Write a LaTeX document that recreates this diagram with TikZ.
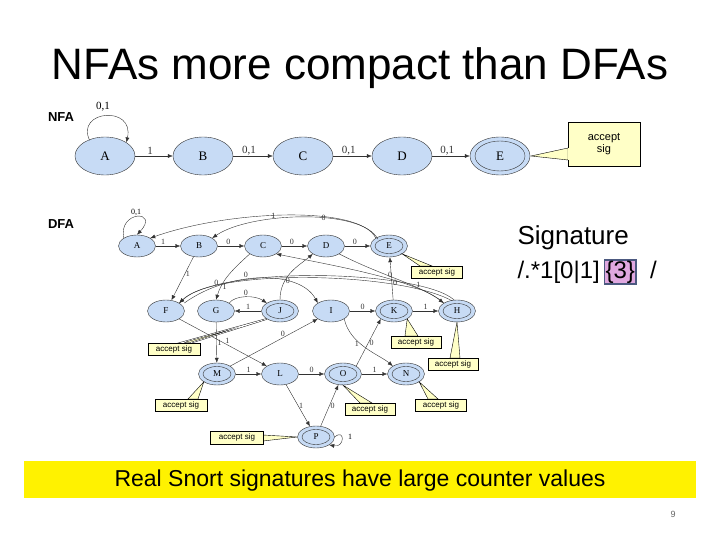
\documentclass[tikz,border=0pt]{standalone}
\usepackage{fontspec}
\setmainfont{Liberation Sans}
\newfontfamily\serif{Liberation Serif}
\usetikzlibrary{arrows.meta,shapes.geometric}
\definecolor{nodefill}{rgb}{0.78,0.86,0.96}
\definecolor{callfill}{rgb}{1,1,0.78}
\definecolor{pinkbox}{rgb}{0.88,0.66,0.88}
\definecolor{boxedge}{rgb}{0.3,0.35,0.5}
\begin{document}
\begin{tikzpicture}[x=1pt,y=-1pt,
 st/.style={ellipse,draw=black!80,fill=nodefill,minimum width=60,minimum height=38,inner sep=0,font=\serif\fontsize{13}{13}\selectfont},
 sst/.style={ellipse,draw=black!80,fill=nodefill,minimum width=37,minimum height=22,inner sep=0,font=\serif\fontsize{9}{9}\selectfont},
 ed/.style={-{Latex[length=5pt,width=4pt]},black!80,thin},
 lb/.style={font=\serif\fontsize{11}{11}\selectfont,inner sep=1pt},
 sl/.style={font=\serif\fontsize{8}{8}\selectfont,inner sep=1pt},
 cb/.style={draw,fill=callfill,inner sep=1pt,font=\fontsize{8}{8}\selectfont},
]
\useasboundingbox (0,0) rectangle (720,540);
\node[font=\fontsize{44}{44}\selectfont] (title) at (360,68) {NFAs more compact than DFAs};
\node[font=\bfseries\fontsize{13}{13}\selectfont] (nfa) at (61,117) {NFA};
\node[font=\bfseries\fontsize{13}{13}\selectfont] (dfa) at (61,224) {DFA};
% NFA
\node[st] (na) at (105,156) {A};
\node[st] (nb) at (203,156) {B};
\node[st] (nc) at (303,156) {C};
\node[st] (nd) at (402,156) {D};
\node[st,draw=none] (ne) at (500,156) {};
\draw[black!80] (ne.center) ellipse (30 and 19);
\draw[black!80] (ne.center) ellipse (25 and 15);
\node[font=\serif\fontsize{13}{13}\selectfont] at (ne) {E};
\draw[ed] (na.north west) ++(6,-2) .. controls (75,110) and (135,105) .. (na.north east);
\node[lb] at (103,107) {0,1};
\draw[ed] (na) -- node[lb,above,pos=.4]{1} (nb);
\draw[ed] (nb) -- node[lb,above,pos=.4]{0,1} (nc);
\draw[ed] (nc) -- node[lb,above,pos=.4]{0,1} (nd);
\draw[ed] (nd) -- node[lb,above,pos=.4]{0,1} (ne);
\coordinate (ptE) at (531,156);
\draw[fill=callfill] (ptE) -- (568,148) -- (568,160) -- cycle;
\node[cb,minimum width=72,minimum height=44,font=\fontsize{11}{12}\selectfont,align=center] (cE) at (604,144) {accept\\sig};
\fill[callfill] (567.7,148.4) rectangle (568.6,159.6);
% DFA nodes
\foreach \n/\x/\y in {A/137/246,B/199/246,C/263/246,D/326/246,F/166/311,G/216/311,I/331/311,L/280/374}
  \node[sst] (\n) at (\x,\y) {\n};
\foreach \n/\x/\y in {E/389/246,J/280/311,K/394/311,H/457/311,M/217/374,O/343/374,N/406/374,P/316/437}
  {\node[sst] (\n) at (\x,\y) {};
   \draw[black!80] (\n.center) ellipse (14 and 7.5);
   \node[font=\serif\fontsize{9}{9}\selectfont] at (\n) {\n};}
% DFA edges
\draw[ed] (A.north west) .. controls (118,210) and (160,210) .. (A.north);
\node[sl] at (136,212) {0,1};
\draw[ed] (A) -- node[sl,above,pos=.3]{1} (B);
\draw[ed] (B) -- node[sl,above,pos=.4]{0} (C);
\draw[ed] (C) -- node[sl,above,pos=.4]{0} (D);
\draw[ed] (D) -- node[sl,above,pos=.4]{0} (E);
\draw[ed] (E.north west) .. controls (360,205) and (230,210) .. node[sl,pos=.55]{1} (A.north east);
\draw[ed] (E.north west) ++(2,1) .. controls (362,208) and (250,212) .. node[sl,pos=.4]{0} (B.north east);
\draw[ed] (B) -- node[sl,right,pos=.4]{1} (F);
\draw[ed] (C.south west) .. controls (232,270) and (222,280) .. node[sl,pos=.75,right]{1} (G.north);
\draw[ed] (J.north) .. controls (280,275) and (300,265) .. node[sl,right,pos=.3]{0} (D.south west);
\draw[ed] (D.south east) .. controls (380,275) and (420,285) .. node[sl,pos=.7,above]{1} (H.north west);
\draw[ed] (H.north west) .. controls (420,280) and (330,265) .. node[sl,pos=.4,above]{0} (C.south east);
\draw[ed] (H.north) ++(-3,0) .. controls (420,270) and (220,265) .. (F.north east);
\draw[ed] (H.north) ++(-5,1) .. controls (400,272) and (215,268) .. node[sl,pos=.8,above]{0} (F.north east);
\draw[ed] (F.north east) ++(5,0) .. controls (230,270) and (300,270) .. node[sl,pos=.4,above]{0} (I.north west);
\draw[ed] (G.north east) .. controls (235,295) and (255,295) .. node[sl,above]{0} (J.north west);
\draw[ed] (J.west) -- node[sl,above]{1} (G.east);
\draw[ed] (I) -- node[sl,above]{0} (K);
\draw[ed] (K) -- node[sl,above]{1} (H);
\draw[ed] (K) -- node[sl,right,pos=.4]{0} (E);
\draw[ed] (G) -- node[sl,right]{1} (M);
\draw[ed] (F.south east) -- node[sl,above,pos=.55]{1} (L.north west);
\draw[ed] (M.north east) -- node[sl,above,pos=.6]{0} (I.south west);
\draw[ed] (M) -- node[sl,above]{1} (L);
\draw[ed] (L) -- node[sl,above]{0} (O);
\draw[ed] (O) -- node[sl,above]{1} (N);
\draw[ed] (O.north east) -- node[sl,right,pos=.5]{0} (K.south west);
\draw[ed] (I.south east) .. controls (350,345) and (380,355) .. node[sl,left,pos=.4]{1} (N.north west);
\draw[ed] (L) -- node[sl,right,pos=.5]{1} (P);
\draw[ed] (P) -- node[sl,right,pos=.5]{0} (O);
\draw[ed] (P.east) .. controls (345,428) and (345,448) .. (P.south east);
\node[sl] at (350,437) {1};
% callouts
\draw[fill=callfill] (E.south east) -- (420,266) -- (432,266) -- cycle;
\node[cb,minimum width=51,minimum height=12] (cbE) at (437,272.5) {accept sig};
\draw[fill=callfill,double] (J.south west) -- (190,343) -- (180,343) -- cycle;
\node[cb,minimum width=52,minimum height=12] (cbJ) at (174,349) {accept sig};
\draw[fill=callfill] (K.south east) -- (405,336) -- (418,336) -- cycle;
\node[cb,minimum width=50,minimum height=12] (cbK) at (416,342) {accept sig};
\draw[fill=callfill] (H.south) -- (450,358) -- (460,358) -- cycle;
\node[cb,minimum width=50,minimum height=12] (cbH) at (453,364) {accept sig};
\draw[fill=callfill] (M.south west) -- (188,399) -- (198,399) -- cycle;
\node[cb,minimum width=52,minimum height=12] (cbM) at (181,405) {accept sig};
\draw[fill=callfill] (O.south) -- (360,403) -- (372,403) -- cycle;
\node[cb,minimum width=50,minimum height=12] (cbO) at (370,409) {accept sig};
\draw[fill=callfill] (N.south east) -- (428,399) -- (438,399) -- cycle;
\node[cb,minimum width=51,minimum height=12] (cbN) at (441,405) {accept sig};
\draw[fill=callfill] (P.west) -- (263,435) -- (263,441) -- cycle;
\node[cb,minimum width=53,minimum height=13] (cbP) at (237,437.5) {accept sig};
% signature
\node[anchor=west,font=\fontsize{26}{26}\selectfont] (sig1) at (514,238) {Signature};
\node[anchor=west,font=\fontsize{24}{24}\selectfont] (sig2) at (514,272) {/.*1[0|1]\,\tikz[baseline=(t.base)]\node[draw=boxedge,line width=1.5pt,fill=pinkbox,inner sep=1pt] (t) {\{3\}};\ \ /};
% band
\fill[yellow] (24,461) rectangle (696,498);
\node[font=\fontsize{23}{23}\selectfont] (band) at (360,481) {Real Snort signatures have large counter values};
\node[font=\fontsize{9}{9}\selectfont,text=black!60] (pg) at (673,514) {9};
\end{tikzpicture}
\end{document}
